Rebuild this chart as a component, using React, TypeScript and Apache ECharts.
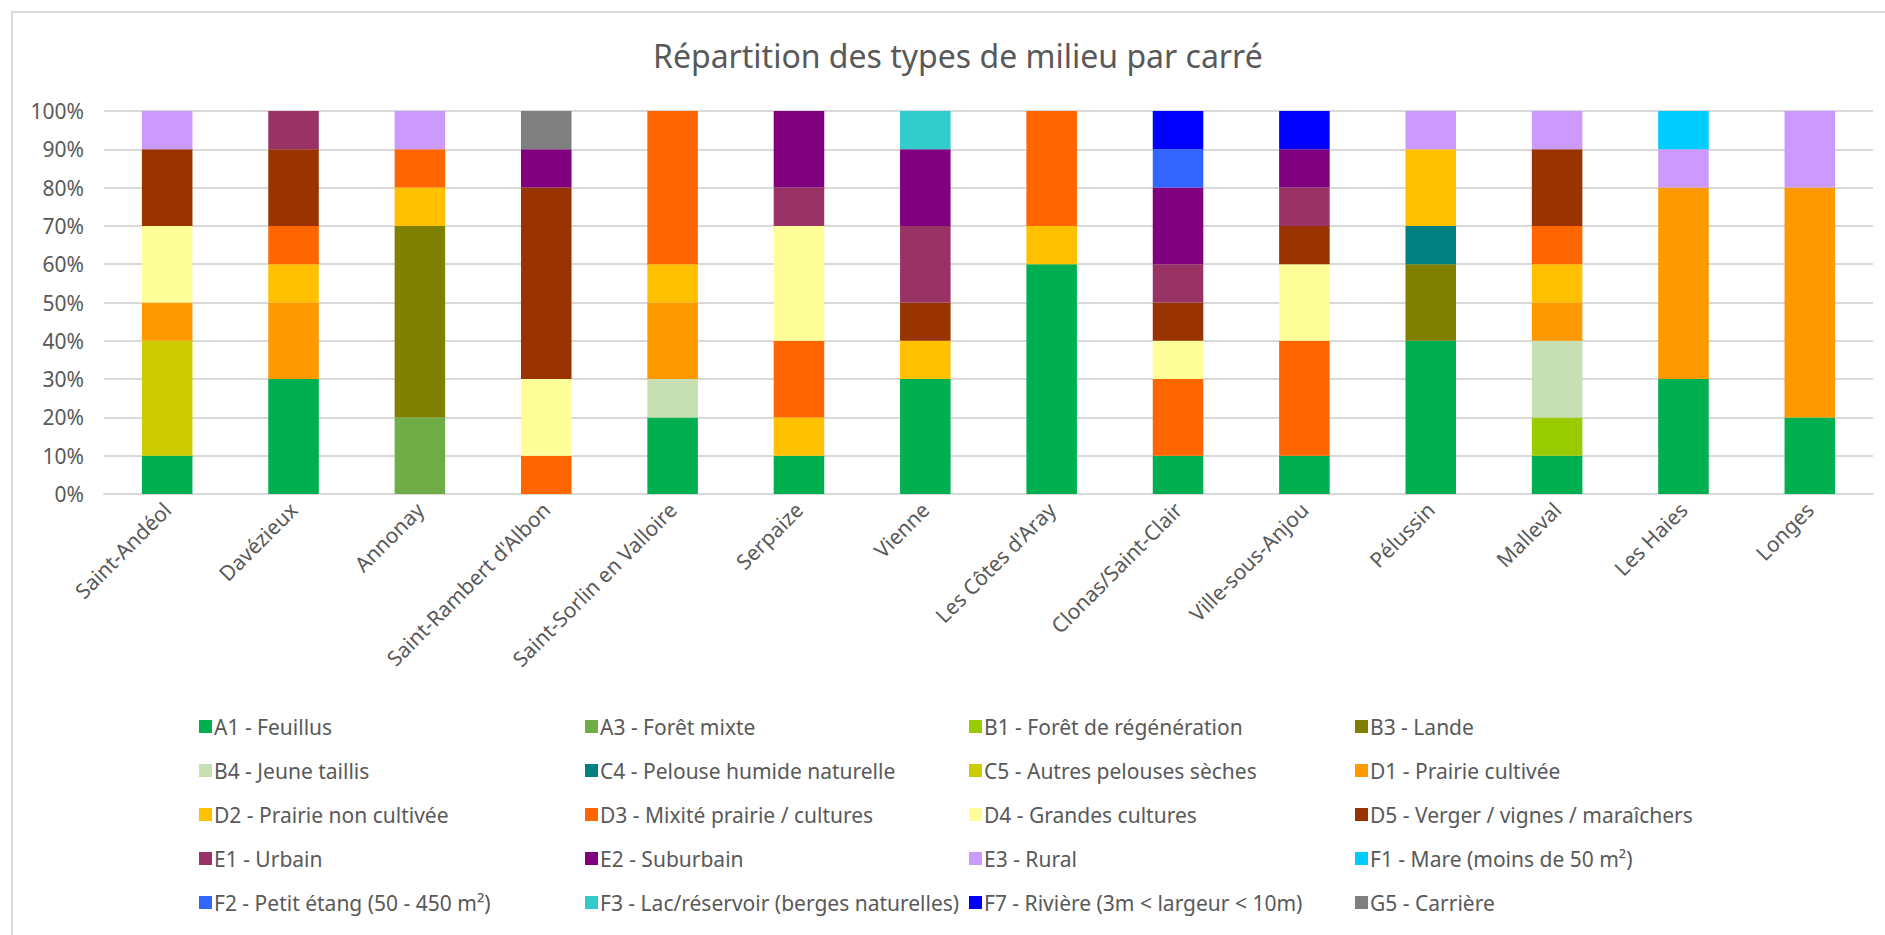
import React, { useEffect, useRef } from "react";
import * as echarts from "echarts";

const categories = [
  "Saint-Andéol", "Davézieux", "Annonay", "Saint-Rambert d'Albon", "Saint-Sorlin en Valloire",
  "Serpaize", "Vienne", "Les Côtes d'Aray", "Clonas/Saint-Clair", "Ville-sous-Anjou",
  "Pélussin", "Malleval", "Les Haies", "Longes",
];

const yTicks = [0, 10, 20, 30, 40, 50, 60, 70, 80, 90, 100];

const A1 = [10, 30, 0, 0, 20, 10, 30, 60, 10, 10, 40, 10, 30, 20];
const A3 = [0, 0, 20, 0, 0, 0, 0, 0, 0, 0, 0, 0, 0, 0];
const B1 = [0, 0, 0, 0, 0, 0, 0, 0, 0, 0, 0, 10, 0, 0];
const B3 = [0, 0, 50, 0, 0, 0, 0, 0, 0, 0, 20, 0, 0, 0];
const B4 = [0, 0, 0, 0, 10, 0, 0, 0, 0, 0, 0, 20, 0, 0];
const C4 = [0, 0, 0, 0, 0, 0, 0, 0, 0, 0, 10, 0, 0, 0];
const C5 = [30, 0, 0, 0, 0, 0, 0, 0, 0, 0, 0, 0, 0, 0];
const D1 = [10, 20, 0, 0, 20, 0, 0, 0, 0, 0, 0, 10, 50, 60];
const D2 = [0, 10, 10, 0, 10, 10, 10, 10, 0, 0, 20, 10, 0, 0];
const D3 = [0, 10, 10, 10, 40, 20, 0, 30, 20, 30, 0, 10, 0, 0];
const D4 = [20, 0, 0, 20, 0, 30, 0, 0, 10, 20, 0, 0, 0, 0];
const D5 = [20, 20, 0, 50, 0, 0, 10, 0, 10, 10, 0, 20, 0, 0];
const E1 = [0, 10, 0, 0, 0, 10, 20, 0, 10, 10, 0, 0, 0, 0];
const E2 = [0, 0, 0, 10, 0, 20, 20, 0, 20, 10, 0, 0, 0, 0];
const E3 = [10, 0, 10, 0, 0, 0, 0, 0, 0, 0, 10, 10, 10, 20];
const F1 = [0, 0, 0, 0, 0, 0, 0, 0, 0, 0, 0, 0, 10, 0];
const F2 = [0, 0, 0, 0, 0, 0, 0, 0, 10, 0, 0, 0, 0, 0];
const F3 = [0, 0, 0, 0, 0, 0, 10, 0, 0, 0, 0, 0, 0, 0];
const F7 = [0, 0, 0, 0, 0, 0, 0, 0, 10, 10, 0, 0, 0, 0];
const G5 = [0, 0, 0, 10, 0, 0, 0, 0, 0, 0, 0, 0, 0, 0];

const seriesNames = [
  "A1 - Feuillus", "A3 - Forêt mixte", "B1 - Forêt de régénération", "B3 - Lande",
  "B4 - Jeune taillis", "C4 - Pelouse humide naturelle", "C5 - Autres pelouses sèches", "D1 - Prairie cultivée",
  "D2 - Prairie non cultivée", "D3 - Mixité prairie / cultures", "D4 - Grandes cultures", "D5 - Verger / vignes / maraîchers",
  "E1 - Urbain", "E2 - Suburbain", "E3 - Rural", "F1 - Mare (moins de 50 m²)",
  "F2 - Petit étang (50 - 450 m²)", "F3 - Lac/réservoir (berges naturelles)", "F7 - Rivière (3m < largeur < 10m)", "G5 - Carrière",
];

const seriesValues = [A1, A3, B1, B3, B4, C4, C5, D1, D2, D3, D4, D5, E1, E2, E3, F1, F2, F3, F7, G5];

const seriesColors = [
  "#00B050", "#70AD47", "#99CC00", "#808000",
  "#C6E0B4", "#008080", "#CCCC00", "#FF9900",
  "#FFC000", "#FF6600", "#FFFF99", "#993300",
  "#993366", "#800080", "#CC99FF", "#00CCFF",
  "#3366FF", "#33CCCC", "#0000FF", "#808080",
];

const FONT = "'Noto Sans', sans-serif";
const TEXT = "#595959";

export default function App() {
  const ref = useRef<HTMLDivElement>(null);

  useEffect(() => {
    if (!ref.current) return;
    const chart = echarts.init(ref.current, undefined, { renderer: "svg" });

    const legendCols = [194, 580, 964, 1350];
    const legends = legendCols.map((left, c) => ({
      orient: "vertical" as const,
      left,
      top: 711,
      itemWidth: 13,
      itemHeight: 13,
      itemGap: 23,
      icon: "rect",
      selectedMode: false,
      data: [0, 1, 2, 3, 4].map((r) => seriesNames[r * 4 + c]),
      textStyle: { fontFamily: FONT, fontSize: 21, color: TEXT, padding: [0, 0, 0, -3] },
    }));

    chart.setOption({
      animation: false,
      backgroundColor: "#ffffff",
      title: {
        text: "Répartition des types de milieu par carré",
        left: 648,
        top: 34,
        textStyle: { fontFamily: FONT, fontSize: 32, fontWeight: "normal", color: TEXT },
      },
      graphic: [
        {
          type: "rect",
          shape: { x: 12, y: 12, width: 1890, height: 940 },
          style: { fill: "none", stroke: "#d9d9d9", lineWidth: 2 },
          silent: true,
        },
      ],
      legend: legends,
      grid: { left: 104, right: 12, top: 111, bottom: 441, containLabel: false },
      xAxis: {
        type: "category",
        data: categories,
        axisLine: { show: true, lineStyle: { color: "#d9d9d9", width: 2 } },
        axisTick: { show: false },
        axisLabel: {
          rotate: 45,
          interval: 0,
          margin: 12,
          fontFamily: FONT,
          fontSize: 21,
          color: TEXT,
        },
      },
      yAxis: {
        type: "value",
        min: yTicks[0],
        max: yTicks[yTicks.length - 1],
        interval: 10,
        axisLine: { show: false },
        axisTick: { show: false },
        splitLine: { lineStyle: { color: "#d9d9d9", width: 2 } },
        axisLabel: {
          formatter: "{value}%",
          margin: 20,
          fontFamily: FONT,
          fontSize: 21,
          color: TEXT,
        },
      },
      series: seriesNames.map((name, i) => ({
        name,
        type: "bar",
        stack: "total",
        barWidth: "40%",
        itemStyle: { color: seriesColors[i] },
        emphasis: { disabled: true },
        data: seriesValues[i].map((v) => (v === 0 ? "-" : v)),
      })),
    });

    return () => chart.dispose();
  }, []);

  return (
    <div
      ref={ref}
      style={{ position: "fixed", left: 0, top: 0, width: 1885, height: 935 }}
    />
  );
}
